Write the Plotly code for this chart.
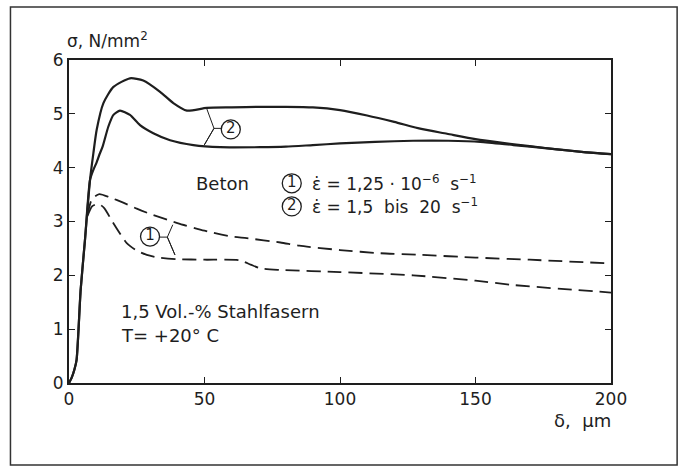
import plotly.graph_objects as go

# ---- data ----
# curve 2 (high strain rate), upper branch (solid)
x2a = [0, 1, 2, 2.8, 4.3, 5.9, 7.75, 9, 10.2, 12.7, 16.4, 22.5, 27.4, 33.6, 38.5, 43.5, 50.8,
       60, 70.5, 80, 90, 100, 110, 120, 130, 139.5, 150, 160, 170, 180, 190, 200]
y2a = [0, 0.1, 0.25, 0.43, 1.73, 2.66, 3.77, 4.27, 4.70, 5.20, 5.50, 5.66, 5.62, 5.41, 5.20, 5.06, 5.11,
       5.12, 5.13, 5.13, 5.12, 5.07, 4.97, 4.85, 4.72, 4.63, 4.53, 4.46, 4.40, 4.34, 4.29, 4.25]
# curve 2, lower branch (solid)
x2b = [0, 1, 2, 2.8, 4.3, 5.9, 7.75, 9, 10.2, 11.2, 12.4, 14.5, 16.4, 18.8, 22.5, 26.2, 31.1, 37.3,
       45.9, 55.8, 70.5, 80, 90, 100, 113, 127, 140, 151.8, 164, 176.4, 190, 200]
y2b = [0, 0.1, 0.25, 0.43, 1.73, 2.66, 3.77, 3.96, 4.10, 4.24, 4.39, 4.76, 4.98, 5.06, 4.98, 4.79, 4.64, 4.51,
       4.42, 4.38, 4.38, 4.39, 4.42, 4.45, 4.48, 4.50, 4.50, 4.48, 4.42, 4.36, 4.29, 4.25]
# curve 1 (low strain rate), upper branch (dashed)
x1a = [6.8, 8.5, 11.2, 15, 20, 25, 30, 40, 50, 60, 65.6, 78, 85, 100, 115, 130, 150, 170, 200]
y1a = [3.12, 3.42, 3.51, 3.45, 3.35, 3.24, 3.14, 2.97, 2.83, 2.72, 2.69, 2.61, 2.55, 2.47, 2.41, 2.38, 2.33, 2.29, 2.22]
# curve 1, lower branch (dashed)
x1b = [6.8, 8.5, 10.8, 13, 16, 21.3, 25, 28.7, 33, 39.8, 50, 63, 67, 70.5, 78, 100, 127, 150, 164, 200]
y1b = [3.1, 3.28, 3.33, 3.25, 3.0, 2.6, 2.46, 2.38, 2.33, 2.30, 2.29, 2.28, 2.20, 2.13, 2.10, 2.06, 2.0, 1.9, 1.82, 1.68]

# leader lines and circled labels
lead2_x = [50.8, 53.5, 49.9, 53.5, 56.3]
lead2_y = [5.10, 4.73, 4.42, 4.73, 4.73]
lead1_x = [38.3, 36.3, 39.1, 36.3, 33.4]
lead1_y = [2.94, 2.71, 2.38, 2.71, 2.71]
circle_x = [59.7, 29.9, 82.2, 82.2]
circle_y = [4.71, 2.72, 3.71, 3.28]
circle_txt = ["2", "1", "1", "2"]

x_ticks = [0, 50, 100, 150, 200]
y_ticks = [0, 1, 2, 3, 4, 5, 6]

INK = "#1e1e1e"
FONT = "DejaVu Sans"

fig = go.Figure()
solid = dict(color=INK, width=2.2, shape="spline", smoothing=0.6)
dashed = dict(color=INK, width=1.8, dash="14px,7px", shape="spline", smoothing=0.6)
fig.add_trace(go.Scatter(x=x2a, y=y2a, mode="lines", line=solid, cliponaxis=False))
fig.add_trace(go.Scatter(x=x2b, y=y2b, mode="lines", line=solid, cliponaxis=False))
fig.add_trace(go.Scatter(x=x1a, y=y1a, mode="lines", line=dashed))
fig.add_trace(go.Scatter(x=x1b, y=y1b, mode="lines", line=dashed))
fig.add_trace(go.Scatter(x=lead2_x, y=lead2_y, mode="lines", line=dict(color=INK, width=1)))
fig.add_trace(go.Scatter(x=lead1_x, y=lead1_y, mode="lines", line=dict(color=INK, width=1)))
fig.add_trace(go.Scatter(
    x=circle_x, y=circle_y, mode="markers+text", text=circle_txt, textposition="middle center",
    textfont=dict(family=FONT, size=15, color=INK),
    marker=dict(symbol="circle", size=19, color="white", line=dict(color=INK, width=1.3))))

fig.update_layout(
    width=680, height=466, showlegend=False,
    paper_bgcolor="white", plot_bgcolor="white",
    margin=dict(l=69, r=69, t=60, b=83),
    font=dict(family=FONT, size=17, color=INK),
)
axis_common = dict(showgrid=False, zeroline=False, showline=True, linecolor=INK, linewidth=2,
                   mirror="ticks", ticks="inside", ticklen=6, tickwidth=1.2, tickcolor=INK,
                   tickfont=dict(family=FONT, size=17, color=INK))
fig.update_xaxes(range=[0, 200], tickvals=x_ticks, ticktext=[str(v) for v in x_ticks], **axis_common)
fig.update_yaxes(range=[0, 6], tickvals=y_ticks, ticktext=[str(v) for v in y_ticks], **axis_common)

ann = [
    dict(x=-0.008, y=1.062, xref="paper", yref="paper", text="σ, N/mm<sup>2</sup>",
         xanchor="left", yanchor="middle", showarrow=False, font=dict(size=17)),
    dict(x=1.003, y=-0.115, xref="paper", yref="paper", text="δ,  µm",
         xanchor="right", yanchor="middle", showarrow=False, font=dict(size=18)),
    dict(x=46.0, y=3.71, text="Beton", xanchor="left", yanchor="middle", showarrow=False,
         font=dict(size=18)),
    dict(x=89.0, y=3.71, text="ε̇ = 1,25 · 10<sup>−6</sup>  s<sup>−1</sup>", xanchor="left",
         yanchor="middle", showarrow=False, font=dict(size=17)),
    dict(x=89.0, y=3.28, text="ε̇ = 1,5  bis  20  s<sup>−1</sup>", xanchor="left",
         yanchor="middle", showarrow=False, font=dict(size=17)),
    dict(x=18.5, y=1.32, text="1,5 Vol.-% Stahlfasern", xanchor="left", yanchor="middle",
         showarrow=False, font=dict(size=18)),
    dict(x=18.5, y=0.89, text="T= +20° C", xanchor="left", yanchor="middle",
         showarrow=False, font=dict(size=18)),
]
fig.update_layout(annotations=ann)

fig.add_shape(type="rect", xref="paper", yref="paper", x0=-0.108, x1=1.122, y0=-0.254, y1=1.164,
              line=dict(color="#333", width=1.5))

fig.write_html("out.html", config={"displayModeBar": False},
               post_script="document.body.style.margin='0';")
